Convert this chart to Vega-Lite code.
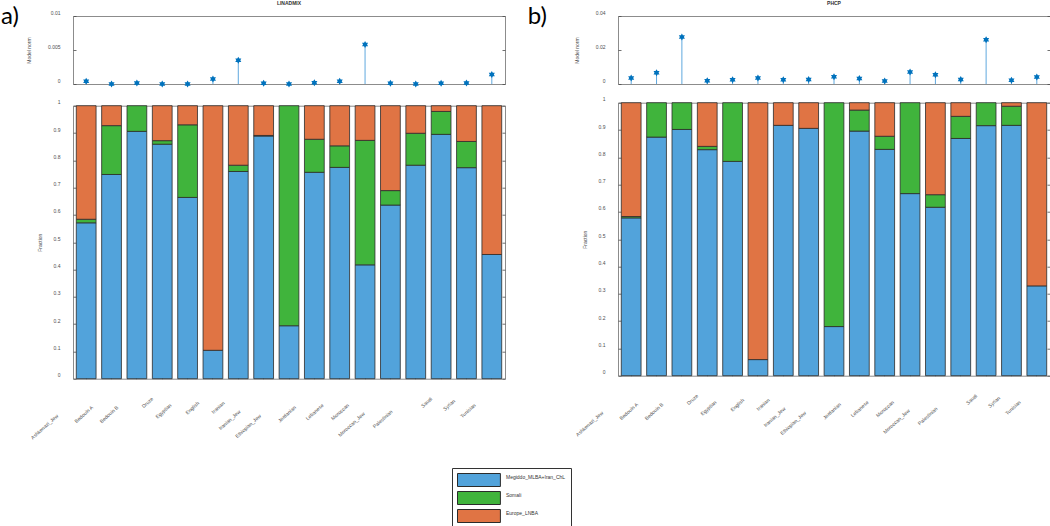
{
  "$schema": "https://vega.github.io/schema/vega-lite/v6.json",
  "padding": 0,
  "background": "white",
  "datasets": {
    "a_bars": [
      {"pop": "Ashkenazi_Jew", "Megiddo_MLBA+Iran_ChL": 0.571, "Somali": 0.013, "Europe_LNBA": 0.416},
      {"pop": "Bedouin A", "Megiddo_MLBA+Iran_ChL": 0.748, "Somali": 0.179, "Europe_LNBA": 0.073},
      {"pop": "Bedouin B", "Megiddo_MLBA+Iran_ChL": 0.906, "Somali": 0.094, "Europe_LNBA": 0},
      {"pop": "Druze", "Megiddo_MLBA+Iran_ChL": 0.859, "Somali": 0.013, "Europe_LNBA": 0.128},
      {"pop": "Egyptian", "Megiddo_MLBA+Iran_ChL": 0.664, "Somali": 0.266, "Europe_LNBA": 0.07},
      {"pop": "English", "Megiddo_MLBA+Iran_ChL": 0.104, "Somali": 0, "Europe_LNBA": 0.896},
      {"pop": "Iranian", "Megiddo_MLBA+Iran_ChL": 0.759, "Somali": 0.023, "Europe_LNBA": 0.218},
      {"pop": "Iranian_Jew", "Megiddo_MLBA+Iran_ChL": 0.889, "Somali": 0.002, "Europe_LNBA": 0.109},
      {"pop": "Ethiopian_Jew", "Megiddo_MLBA+Iran_ChL": 0.194, "Somali": 0.806, "Europe_LNBA": 0},
      {"pop": "Jordanian", "Megiddo_MLBA+Iran_ChL": 0.756, "Somali": 0.121, "Europe_LNBA": 0.123},
      {"pop": "Lebanese", "Megiddo_MLBA+Iran_ChL": 0.774, "Somali": 0.079, "Europe_LNBA": 0.147},
      {"pop": "Moroccan", "Megiddo_MLBA+Iran_ChL": 0.417, "Somali": 0.456, "Europe_LNBA": 0.127},
      {"pop": "Moroccan_Jew", "Megiddo_MLBA+Iran_ChL": 0.636, "Somali": 0.053, "Europe_LNBA": 0.311},
      {"pop": "Palestinian", "Megiddo_MLBA+Iran_ChL": 0.782, "Somali": 0.117, "Europe_LNBA": 0.101},
      {"pop": "Saudi", "Megiddo_MLBA+Iran_ChL": 0.895, "Somali": 0.084, "Europe_LNBA": 0.021},
      {"pop": "Syrian", "Megiddo_MLBA+Iran_ChL": 0.773, "Somali": 0.096, "Europe_LNBA": 0.131},
      {"pop": "Tunisian", "Megiddo_MLBA+Iran_ChL": 0.455, "Somali": 0, "Europe_LNBA": 0.545}
    ],
    "b_bars": [
      {"pop": "Ashkenazi_Jew", "Megiddo_MLBA+Iran_ChL": 0.578, "Somali": 0.005, "Europe_LNBA": 0.417},
      {"pop": "Bedouin A", "Megiddo_MLBA+Iran_ChL": 0.874, "Somali": 0.126, "Europe_LNBA": 0},
      {"pop": "Bedouin B", "Megiddo_MLBA+Iran_ChL": 0.902, "Somali": 0.098, "Europe_LNBA": 0},
      {"pop": "Druze", "Megiddo_MLBA+Iran_ChL": 0.828, "Somali": 0.012, "Europe_LNBA": 0.16},
      {"pop": "Egyptian", "Megiddo_MLBA+Iran_ChL": 0.785, "Somali": 0.215, "Europe_LNBA": 0},
      {"pop": "English", "Megiddo_MLBA+Iran_ChL": 0.059, "Somali": 0, "Europe_LNBA": 0.941},
      {"pop": "Iranian", "Megiddo_MLBA+Iran_ChL": 0.917, "Somali": 0, "Europe_LNBA": 0.083},
      {"pop": "Iranian_Jew", "Megiddo_MLBA+Iran_ChL": 0.906, "Somali": 0, "Europe_LNBA": 0.094},
      {"pop": "Ethiopian_Jew", "Megiddo_MLBA+Iran_ChL": 0.18, "Somali": 0.82, "Europe_LNBA": 0},
      {"pop": "Jordanian", "Megiddo_MLBA+Iran_ChL": 0.896, "Somali": 0.077, "Europe_LNBA": 0.027},
      {"pop": "Lebanese", "Megiddo_MLBA+Iran_ChL": 0.829, "Somali": 0.048, "Europe_LNBA": 0.123},
      {"pop": "Moroccan", "Megiddo_MLBA+Iran_ChL": 0.667, "Somali": 0.333, "Europe_LNBA": 0},
      {"pop": "Moroccan_Jew", "Megiddo_MLBA+Iran_ChL": 0.617, "Somali": 0.046, "Europe_LNBA": 0.337},
      {"pop": "Palestinian", "Megiddo_MLBA+Iran_ChL": 0.869, "Somali": 0.081, "Europe_LNBA": 0.05},
      {"pop": "Saudi", "Megiddo_MLBA+Iran_ChL": 0.916, "Somali": 0.084, "Europe_LNBA": 0},
      {"pop": "Syrian", "Megiddo_MLBA+Iran_ChL": 0.917, "Somali": 0.07, "Europe_LNBA": 0.013},
      {"pop": "Tunisian", "Megiddo_MLBA+Iran_ChL": 0.329, "Somali": 0, "Europe_LNBA": 0.671}
    ],
    "a_norm": [
      {"pop": "Ashkenazi_Jew", "norm": 0.0004},
      {"pop": "Bedouin A", "norm": 0.0},
      {"pop": "Bedouin B", "norm": 0.00015},
      {"pop": "Druze", "norm": 0.0},
      {"pop": "Egyptian", "norm": 0.0},
      {"pop": "English", "norm": 0.00074},
      {"pop": "Iranian", "norm": 0.0035},
      {"pop": "Iranian_Jew", "norm": 0.0001},
      {"pop": "Ethiopian_Jew", "norm": 0.0},
      {"pop": "Jordanian", "norm": 0.0002},
      {"pop": "Lebanese", "norm": 0.0004},
      {"pop": "Moroccan", "norm": 0.0058},
      {"pop": "Moroccan_Jew", "norm": 0.0001},
      {"pop": "Palestinian", "norm": 0.0},
      {"pop": "Saudi", "norm": 0.0001},
      {"pop": "Syrian", "norm": 0.00015},
      {"pop": "Tunisian", "norm": 0.0014}
    ],
    "b_norm": [
      {"pop": "Ashkenazi_Jew", "norm": 0.0035},
      {"pop": "Bedouin A", "norm": 0.0066},
      {"pop": "Bedouin B", "norm": 0.0276},
      {"pop": "Druze", "norm": 0.0019},
      {"pop": "Egyptian", "norm": 0.0025},
      {"pop": "English", "norm": 0.0035},
      {"pop": "Iranian", "norm": 0.0025},
      {"pop": "Iranian_Jew", "norm": 0.0027},
      {"pop": "Ethiopian_Jew", "norm": 0.0043},
      {"pop": "Jordanian", "norm": 0.0033},
      {"pop": "Lebanese", "norm": 0.0018},
      {"pop": "Moroccan", "norm": 0.0071},
      {"pop": "Moroccan_Jew", "norm": 0.0055},
      {"pop": "Palestinian", "norm": 0.0027},
      {"pop": "Saudi", "norm": 0.026},
      {"pop": "Syrian", "norm": 0.0022},
      {"pop": "Tunisian", "norm": 0.0041}
    ]
  },
  "spacing": 21,
  "hconcat": [
    {
      "title": {"text": "a)", "anchor": "start", "frame": "bounds", "fontSize": 24, "font": "Lato", "fontWeight": "normal", "color": "black", "offset": -28, "dx": -25},
      "spacing": 10.7,
      "vconcat": [
        {
          "width": 432,
          "height": 68,
          "data": {"name": "a_norm"},
          "title": {"text": "LINADMIX", "fontSize": 5, "fontWeight": "bold", "color": "#333333", "offset": 4},
          "encoding": {
            "x": {"field": "pop", "type": "nominal", "sort": ["Ashkenazi_Jew","Bedouin A","Bedouin B","Druze","Egyptian","English","Iranian","Iranian_Jew","Ethiopian_Jew","Jordanian","Lebanese","Moroccan","Moroccan_Jew","Palestinian","Saudi","Syrian","Tunisian"], "scale": {"type": "band", "paddingInner": 0.22, "paddingOuter": 0.13}, "axis": null}
          },
          "layer": [
            {
              "mark": {"type": "rule", "color": "#5fa8de", "strokeWidth": 1},
              "encoding": {
                "y": {"field": "norm", "type": "quantitative", "scale": {"domain": [0, 0.01]}, "axis": {"title": "Model norm", "values": [0, 0.005, 0.01], "format": ".3~f", "titlePadding": 16}},
                "y2": {"datum": 0}
              }
            },
            {
              "mark": {"type": "point", "shape": "M0,-1L0.289,-0.5L0.866,-0.5L0.577,0L0.866,0.5L0.289,0.5L0,1L-0.289,0.5L-0.866,0.5L-0.577,0L-0.866,-0.5L-0.289,-0.5Z", "filled": true, "color": "#0072bd", "size": 49, "opacity": 1},
              "encoding": {"y": {"field": "norm", "type": "quantitative", "axis": null}}
            },
            {
              "mark": {"type": "rule", "opacity": 0},
              "encoding": {"y": {"datum": 0, "type": "quantitative", "axis": {"orient": "right", "labels": false, "title": null, "values": [0, 0.005, 0.01]}}}
            }
          ],
          "resolve": {"axis": {"y": "independent"}}
        },
        {
          "width": 432,
          "height": 273,
          "data": {"name": "a_bars"},
          "transform": [
            {"fold": ["Megiddo_MLBA+Iran_ChL", "Somali", "Europe_LNBA"], "as": ["comp", "frac"]},
            {"filter": "datum.frac > 0"},
            {"calculate": "indexof(['Megiddo_MLBA+Iran_ChL', 'Somali', 'Europe_LNBA'], datum.comp)", "as": "k"}
          ],
          "layer": [
            {
              "mark": {"type": "bar", "stroke": "#2b2b2b", "strokeWidth": 0.8},
              "encoding": {
                "x": {"field": "pop", "type": "nominal", "sort": ["Ashkenazi_Jew","Bedouin A","Bedouin B","Druze","Egyptian","English","Iranian","Iranian_Jew","Ethiopian_Jew","Jordanian","Lebanese","Moroccan","Moroccan_Jew","Palestinian","Saudi","Syrian","Tunisian"], "scale": {"type": "band", "paddingInner": 0.22, "paddingOuter": 0.13}, "axis": {"title": null, "labelAngle": -42, "labelAlign": "right", "labelBaseline": "middle", "labelPadding": 11, "labelOffset": 2, "encoding": {"labels": {"dx": {"value": {"expr": "-3.2*length(datum.label)"}}}}}},
                "y": {"field": "frac", "type": "quantitative", "stack": "zero", "scale": {"domain": [0, 1]}, "axis": {"title": "Fraction", "values": [0, 0.1, 0.2, 0.3, 0.4, 0.5, 0.6, 0.7, 0.8, 0.9, 1], "format": ".1~f", "titlePadding": 11}},
                "order": {"field": "k", "type": "quantitative", "sort": "ascending"},
                "color": {
                  "field": "comp", "type": "nominal",
                  "scale": {"domain": ["Megiddo_MLBA+Iran_ChL", "Somali", "Europe_LNBA"], "range": ["#52a3db", "#40b43c", "#e07444"]},
                  "legend": {"title": null, "orient": "none", "legendX": 379, "legendY": 452, "symbolType": "M-1,-1H5.6V1H-1Z", "symbolSize": 169, "symbolStrokeColor": "#222222", "symbolStrokeWidth": 1, "symbolOpacity": 1, "labelFontSize": 5, "labelColor": "#333333", "labelBaseline": "bottom", "labelOffset": 35, "labelLimit": 400, "labelExpr": "pad(datum.label, 82, '\u00a0')", "rowPadding": 0, "padding": 5, "strokeColor": "#333333", "fillColor": "white"}
                }
              }
            },
            {
              "mark": {"type": "rule", "opacity": 0},
              "encoding": {"y": {"datum": 0, "type": "quantitative", "axis": {"orient": "right", "labels": false, "title": null, "values": [0, 0.1, 0.2, 0.3, 0.4, 0.5, 0.6, 0.7, 0.8, 0.9, 1]}}}
            }
          ],
          "resolve": {"axis": {"y": "independent"}}
        }
      ]
    },
    {
      "title": {"text": "b)", "anchor": "start", "frame": "bounds", "fontSize": 24, "font": "Lato", "fontWeight": "normal", "color": "black", "offset": -28, "dx": -46},
      "spacing": 10.7,
      "vconcat": [
        {
          "width": 432,
          "height": 68,
          "data": {"name": "b_norm"},
          "title": {"text": "PHCP", "fontSize": 5, "fontWeight": "bold", "color": "#333333", "offset": 4},
          "encoding": {
            "x": {"field": "pop", "type": "nominal", "sort": ["Ashkenazi_Jew","Bedouin A","Bedouin B","Druze","Egyptian","English","Iranian","Iranian_Jew","Ethiopian_Jew","Jordanian","Lebanese","Moroccan","Moroccan_Jew","Palestinian","Saudi","Syrian","Tunisian"], "scale": {"type": "band", "paddingInner": 0.22, "paddingOuter": 0.13}, "axis": null}
          },
          "layer": [
            {
              "mark": {"type": "rule", "color": "#5fa8de", "strokeWidth": 1},
              "encoding": {
                "y": {"field": "norm", "type": "quantitative", "scale": {"domain": [0, 0.04]}, "axis": {"title": "Model norm", "values": [0, 0.02, 0.04], "format": ".2~f", "titlePadding": 16}},
                "y2": {"datum": 0}
              }
            },
            {
              "mark": {"type": "point", "shape": "M0,-1L0.289,-0.5L0.866,-0.5L0.577,0L0.866,0.5L0.289,0.5L0,1L-0.289,0.5L-0.866,0.5L-0.577,0L-0.866,-0.5L-0.289,-0.5Z", "filled": true, "color": "#0072bd", "size": 49, "opacity": 1},
              "encoding": {"y": {"field": "norm", "type": "quantitative", "axis": null}}
            },
            {
              "mark": {"type": "rule", "opacity": 0},
              "encoding": {"y": {"datum": 0, "type": "quantitative", "axis": {"orient": "right", "labels": false, "title": null, "values": [0, 0.02, 0.04]}}}
            }
          ],
          "resolve": {"axis": {"y": "independent"}}
        },
        {
          "width": 432,
          "height": 273,
          "data": {"name": "b_bars"},
          "transform": [
            {"fold": ["Megiddo_MLBA+Iran_ChL", "Somali", "Europe_LNBA"], "as": ["comp", "frac"]},
            {"filter": "datum.frac > 0"},
            {"calculate": "indexof(['Megiddo_MLBA+Iran_ChL', 'Somali', 'Europe_LNBA'], datum.comp)", "as": "k"}
          ],
          "layer": [
            {
              "mark": {"type": "bar", "stroke": "#2b2b2b", "strokeWidth": 0.8},
              "encoding": {
                "x": {"field": "pop", "type": "nominal", "sort": ["Ashkenazi_Jew","Bedouin A","Bedouin B","Druze","Egyptian","English","Iranian","Iranian_Jew","Ethiopian_Jew","Jordanian","Lebanese","Moroccan","Moroccan_Jew","Palestinian","Saudi","Syrian","Tunisian"], "scale": {"type": "band", "paddingInner": 0.22, "paddingOuter": 0.13}, "axis": {"title": null, "labelAngle": -42, "labelAlign": "right", "labelBaseline": "middle", "labelPadding": 11, "labelOffset": 2, "encoding": {"labels": {"dx": {"value": {"expr": "-3.2*length(datum.label)"}}}}}},
                "y": {"field": "frac", "type": "quantitative", "stack": "zero", "scale": {"domain": [0, 1]}, "axis": {"title": "Fraction", "values": [0, 0.1, 0.2, 0.3, 0.4, 0.5, 0.6, 0.7, 0.8, 0.9, 1], "format": ".1~f", "titlePadding": 11}},
                "order": {"field": "k", "type": "quantitative", "sort": "ascending"},
                "color": {"field": "comp", "type": "nominal"}
              }
            },
            {
              "mark": {"type": "rule", "opacity": 0},
              "encoding": {"y": {"datum": 0, "type": "quantitative", "axis": {"orient": "right", "labels": false, "title": null, "values": [0, 0.1, 0.2, 0.3, 0.4, 0.5, 0.6, 0.7, 0.8, 0.9, 1]}}}
            }
          ],
          "resolve": {"axis": {"y": "independent"}}
        }
      ]
    }
  ],
  "config": {
    "font": "Liberation Sans",
    "view": {"stroke": "#8c8c8c", "strokeWidth": 1},
    "axis": {"grid": false, "domain": false, "labelFontSize": 5, "labelColor": "#4d4d4d", "titleFontSize": 5, "titleFontWeight": "normal", "titleColor": "#4d4d4d", "tickColor": "#4d4d4d", "tickSize": -3, "tickWidth": 0.8},
    "axisY": {"labelAlign": "right", "labelPadding": 16, "labelOffset": -4}
  }
}
